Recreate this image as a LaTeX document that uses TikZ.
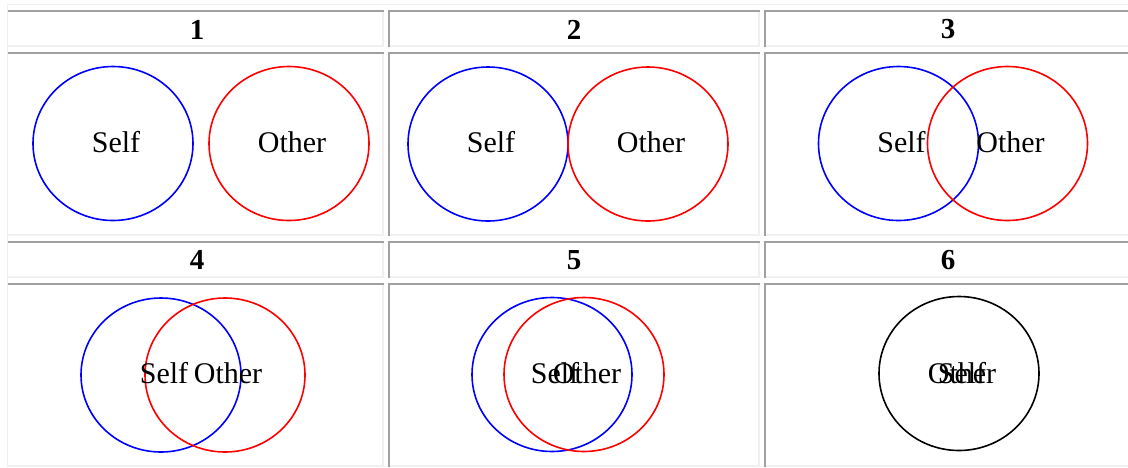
\documentclass[tikz,border=0pt]{standalone}
\usepackage{fontspec}
\setmainfont{Liberation Serif}
\definecolor{edgedark}{HTML}{A0A0A0}
\definecolor{edgelight}{HTML}{F0F0F0}
\begin{document}
\begin{tikzpicture}[x=1pt,y=-1pt,
    selfring/.style={draw=blue,line width=1.6pt},
    otherring/.style={draw=red,line width=1.6pt},
    bothring/.style={draw=black,line width=1.6pt},
    lbl/.style={inner sep=0pt,anchor=base,font=\fontsize{30}{30}\selectfont},
    num/.style={inner sep=0pt,font=\fontsize{29}{29}\selectfont\bfseries},
    darkedge/.style={draw=edgedark,line width=2pt},
    lightedge/.style={draw=edgelight,line width=2pt}]
  \useasboundingbox (0,0) rectangle (1128,467);
  % table frame and cell bevels
  \draw[edgelight,line width=1.5pt] (7,4.5) -- (1128,4.5);
  \draw[edgelight,line width=1.5pt] (7.5,4) -- (7.5,467);
  \foreach \xa/\xb in {8/384,388/760,764/1132}
    \foreach \ya/\yb in {10/47,52/236,241/278,283/467} {
      \draw[lightedge] (\xa,\yb-1) -- (\xb-1,\yb-1) -- (\xb-1,\ya);
      \draw[darkedge] (\xa,\ya+1) -- (\xb,\ya+1);
    }
  \foreach \xa in {388,764}
    \foreach \ya/\yb in {10/47,52/236,241/278,283/467}
      \draw[darkedge] (\xa+1,\ya) -- (\xa+1,\yb);
  % step numbers
  \node[num] (n1) at (197,29.5) {1};
  \node[num] (n2) at (574,29.5) {2};
  \node[num] (n3) at (948,29.5) {3};
  \node[num] (n4) at (197,260) {4};
  \node[num] (n5) at (574,260) {5};
  \node[num] (n6) at (948,260) {6};
  % 1: apart
  \draw[selfring] (113,143.5) ellipse (80pt and 77pt);
  \draw[otherring] (289,143.5) ellipse (80pt and 77pt);
  \node[lbl] (s1) at (116,152) {Self};
  \node[lbl] (o1) at (292,152) {Other};
  % 2: touching
  \draw[selfring] (488,144) ellipse (80pt and 77pt);
  \draw[otherring] (648,144) ellipse (80pt and 77pt);
  \node[lbl] (s2) at (491,152) {Self};
  \node[lbl] (o2) at (651,152) {Other};
  % 3: small overlap
  \draw[selfring] (898.5,143.5) ellipse (80pt and 77pt);
  \draw[otherring] (1007.5,143.5) ellipse (80pt and 77pt);
  \node[lbl] (s3) at (901.5,152) {Self};
  \node[lbl] (o3) at (1010.5,152) {Other};
  % 4: half overlap
  \draw[selfring] (161,375) ellipse (80pt and 77pt);
  \draw[otherring] (225,375) ellipse (80pt and 77pt);
  \node[lbl] (s4) at (164,383) {Self};
  \node[lbl] (o4) at (228,383) {Other};
  % 5: mostly overlapping
  \draw[selfring] (552,374.5) ellipse (80pt and 77pt);
  \draw[otherring] (584,374.5) ellipse (80pt and 77pt);
  \node[lbl] (s5) at (555,383) {Self};
  \node[lbl] (o5) at (587,383) {Other};
  % 6: one ring
  \draw[bothring] (959,373.5) ellipse (80pt and 77pt);
  \node[lbl] (s6) at (962,383) {Self};
  \node[lbl] (o6) at (962,383) {Other};
\end{tikzpicture}
\end{document}
